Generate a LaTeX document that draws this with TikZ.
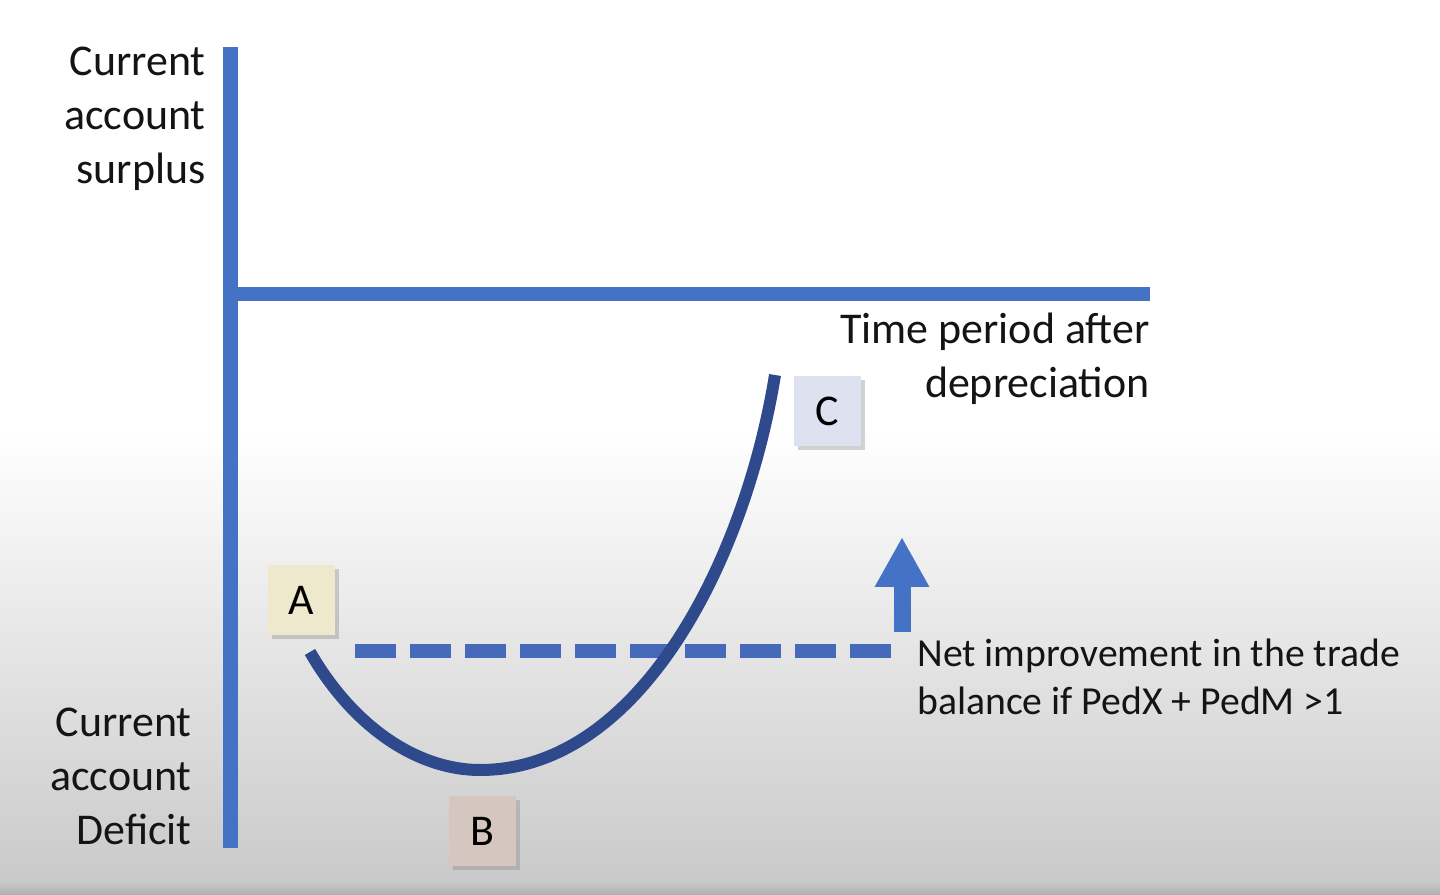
\documentclass[tikz,border=0pt]{standalone}
\usepackage{fontspec}
\setmainfont{Carlito}
\usetikzlibrary{shadows,arrows.meta}
\definecolor{axisblue}{HTML}{4472C4}
\definecolor{dashblue}{HTML}{4669BA}
\definecolor{curveblue}{HTML}{2E4A8C}
\definecolor{boxA}{HTML}{EEE8CC}
\definecolor{boxB}{HTML}{D5C7BF}
\definecolor{boxC}{HTML}{DDE1F0}
\newcommand{\biglbl}{\fontsize{25}{30.7}\selectfont}
\newcommand{\netlbl}{\fontsize{22.6}{27.3}\selectfont}

\begin{document}
\begin{tikzpicture}[x=0.02cm,y=-0.02cm,
    axisline/.style={axisblue,line width=0.3cm},
    letterbox/.style={minimum width=1.34cm,minimum height=1.4cm,inner sep=0pt,font=\biglbl,
      drop shadow={shadow xshift=2.5pt,shadow yshift=-2.5pt,opacity=0.35}},
    axislabel/.style={align=right,anchor=east,inner sep=0pt,font=\biglbl,text=black!92}]
            \fill[white] (0,0) rectangle (1440,895);
            \shade[top color=white,bottom color=black!21] (0,430) rectangle (1440,882);
            \shade[top color=black!21,bottom color=black!32] (0,882) rectangle (1440,895);
            \useasboundingbox (0,0) rectangle (1440,895);
            \coordinate (ytop) at (230.5,47);
            \coordinate (ybottom) at (230.5,848);
            \coordinate (xstart) at (223,294);
            \coordinate (xend) at (1150,294);
            \draw[axisline] (ytop)--(ybottom);
            \draw[axisline] (xstart)--(xend);
            \node[axislabel] (surplus) at (206,119){Current\\account\\surplus};
            \node[axislabel] (deficit) at (192,776){Current\\account\\Deficit};
            \node[axislabel] (time) at (1150,359){Time period after\\depreciation};
            \node[align=left,anchor=west,inner sep=0pt,font=\netlbl,text=black!92] (net) at (917,677){Net improvement in the trade\\balance if PedX + PedM >1};
            \coordinate (dashstart) at (355,651);
            \coordinate (dashend) at (891,651);
            \draw[dashblue,line width=0.28cm,dash pattern=on 0.82cm off 0.28cm] (dashstart)--(dashend);
            \coordinate (arrowfoot) at (902,632);
            \coordinate (arrowtip) at (902,537);
            \draw[axisblue,line width=0.34cm,-{Triangle[length=1cm,width=1.02cm]}] (arrowfoot)--(arrowtip);
            \coordinate (curvestart) at (310,652);
            \coordinate (curvelow) at (480,770);
            \coordinate (curveend) at (775,375);
            \draw[curveblue,line width=0.24cm] (curvestart) .. controls (355,730) and (420,770) .. (curvelow)
                .. controls (640,770) and (745,560) .. (curveend);
            \node[letterbox,fill=boxA] (A) at (301.5,600){A};
            \node[letterbox,fill=boxB] (B) at (482.5,831){B};
            \node[letterbox,fill=boxC] (C) at (827.5,411){C};
        \end{tikzpicture}
\end{document}
